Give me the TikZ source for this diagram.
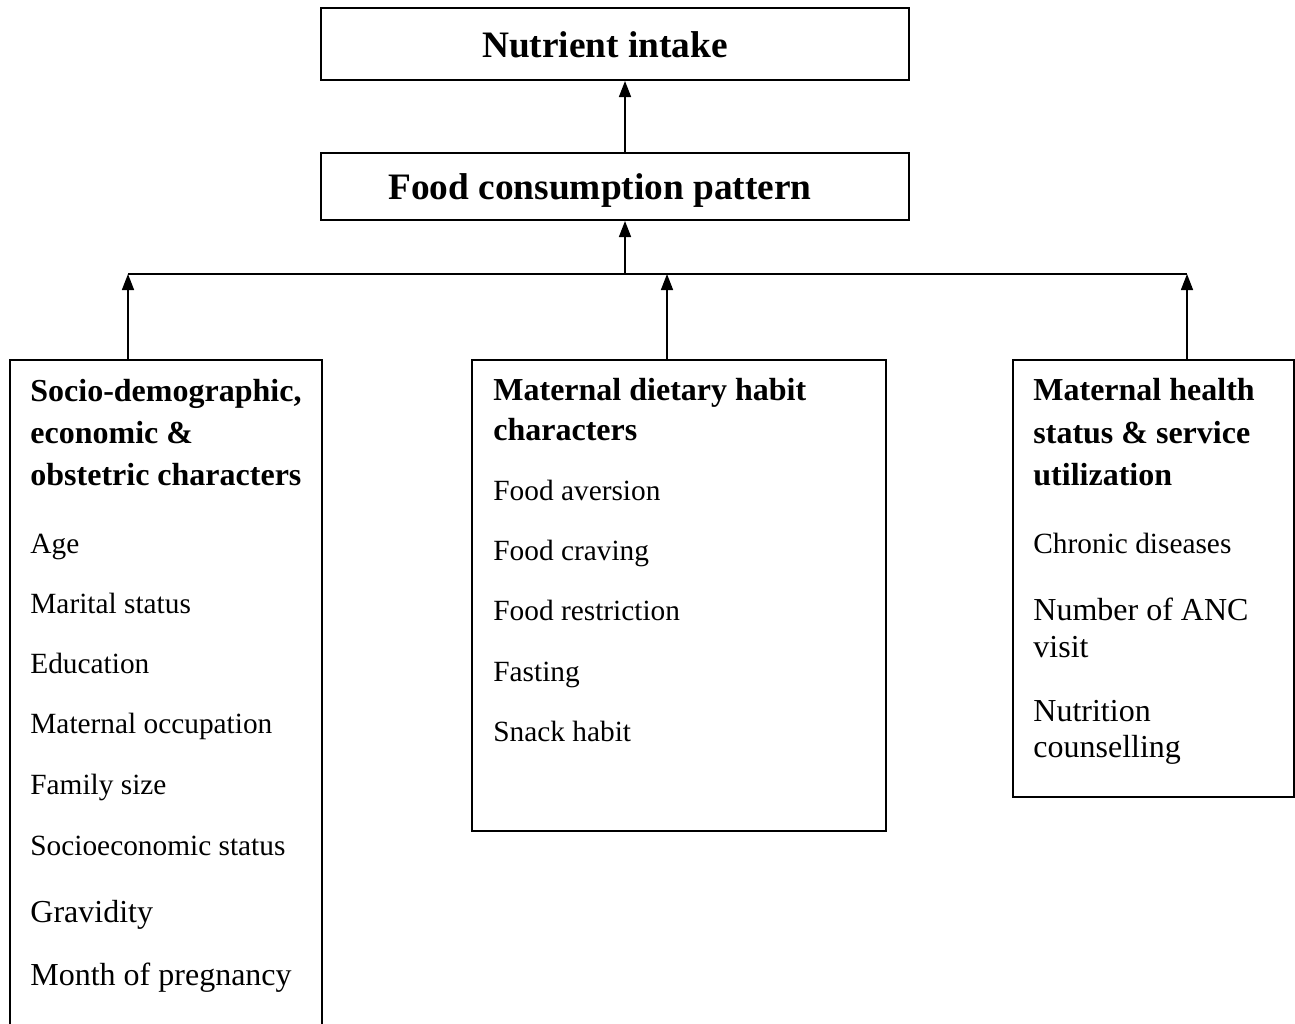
\documentclass[tikz,border=0pt]{standalone}
\usepackage{fontspec}
\setmainfont{Liberation Serif}
\usetikzlibrary{arrows.meta, fit, positioning}

\begin{document}
\begin{tikzpicture}[x=0.5pt, y=-0.5pt,
  box/.style={draw, line width=1pt, inner sep=0pt},
  arr/.style={-{Triangle[length=8pt, width=6pt]}, line width=0.75pt},
  title/.style={font=\fontsize{18.67}{22}\selectfont\bfseries, anchor=base, inner sep=0pt},
  head/.style={font=\fontsize{16}{19}\selectfont\bfseries, anchor=base west, inner sep=0pt},
  item/.style={font=\fontsize{14.67}{17}\selectfont, anchor=base west, inner sep=0pt},
  bigitem/.style={font=\fontsize{16}{19}\selectfont, anchor=base west, inner sep=0pt}]
\useasboundingbox (0,0) rectangle (1295,1023);

% top boxes
\node[box, fit={(321,8) (909,80)}] (intake) {};
\node[title] (intaketxt) at (605,57) {Nutrient intake};
\node[box, fit={(321,153) (909,220)}] (food) {};
\node[title] (foodtxt) at (600,199) {Food consumption pattern};

% bottom boxes
\node[box, fit={(10,360) (322,1100)}] (socio) {};
\node[box, fit={(472,360) (886,831)}] (dietary) {};
\node[box, fit={(1013,360) (1294,797)}] (health) {};

% connectors
\coordinate (busL) at (128,274);
\coordinate (busM) at (625,274);
\coordinate (busC) at (667,274);
\coordinate (busR) at (1187,274);
\draw[line width=0.75pt] (busL) -- (busR);
\draw[arr] (busM) -- (busM |- food.south);
\draw[arr] (busM |- food.north) -- (busM |- intake.south);
\draw[arr] (busL |- socio.north) -- (busL);
\draw[arr] (busC |- dietary.north) -- (busC);
\draw[arr] (busR |- health.north) -- (busR);

% socio-demographic box
\node[head] (sochead1) at (30,401) {Socio-demographic,};
\node[head] (sochead2) at (30,443) {economic \&};
\node[head] (sochead3) at (30,485) {obstetric characters};
\node[item] (age) at (30,553) {Age};
\node[item] (marital) at (30,613) {Marital status};
\node[item] (educ) at (30,673) {Education};
\node[item] (occup) at (30,733) {Maternal occupation};
\node[item] (family) at (30,794) {Family size};
\node[item] (ses) at (30,855) {Socioeconomic status};
\node[bigitem] (gravid) at (30,922) {Gravidity};
\node[bigitem] (month) at (30,985) {Month of pregnancy};

% dietary habit box
\node[head] (diethead1) at (493,400) {Maternal dietary habit};
\node[head] (diethead2) at (493,440) {characters};
\node[item] (aversion) at (493,500) {Food aversion};
\node[item] (craving) at (493,560) {Food craving};
\node[item] (restrict) at (493,620) {Food restriction};
\node[item] (fasting) at (493,681) {Fasting};
\node[item] (snack) at (493,741) {Snack habit};

% health status box
\node[head] (heahead1) at (1033,400) {Maternal health};
\node[head] (heahead2) at (1033,443) {status \& service};
\node[head] (heahead3) at (1033,485) {utilization};
\node[item] (chronic) at (1033,553) {Chronic diseases};
\node[bigitem] (anc1) at (1033,620) {Number of ANC};
\node[bigitem] (anc2) at (1033,657) {visit};
\node[bigitem] (couns1) at (1033,721) {Nutrition};
\node[bigitem] (couns2) at (1033,757) {counselling};

\end{tikzpicture}
\end{document}
